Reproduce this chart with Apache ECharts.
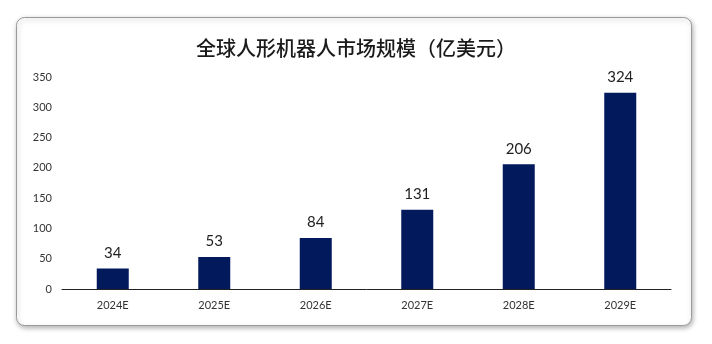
<!DOCTYPE html>
<html>
<head>
<meta charset="utf-8">
<script src="https://cdn.jsdelivr.net/npm/echarts@6/dist/echarts.min.js"></script>
<style>
  html, body { margin: 0; padding: 0; background: #ffffff; }
  #chart { width: 712px; height: 344px; }
</style>
</head>
<body>
<div id="chart"></div>
<script>
// Global humanoid robot market size, 100 million USD
const years = ['2024E', '2025E', '2026E', '2027E', '2028E', '2029E'];
const marketSize = [34, 53, 84, 131, 206, 324];
const titleText = '全球人形机器人市场规模（亿美元）';

const chart = echarts.init(document.getElementById('chart'), null, { renderer: 'canvas' });

chart.setOption({
  backgroundColor: '#ffffff',
  animation: false,
  graphic: [{
    type: 'rect',
    z: -10,
    shape: { x: 16.5, y: 17.5, width: 675, height: 308, r: 8 },
    style: {
      fill: '#ffffff',
      stroke: '#9a9a9a',
      lineWidth: 1,
      shadowBlur: 5,
      shadowOffsetX: 1,
      shadowOffsetY: 2,
      shadowColor: 'rgba(0,0,0,0.3)'
    }
  }],
  title: {
    text: titleText,
    left: 'center',
    top: 33,
    textStyle: {
      fontFamily: '"Noto Sans CJK SC", sans-serif',
      fontSize: 20,
      fontWeight: 500,
      color: '#1a1a1a'
    }
  },
  grid: { left: 62, right: 41, top: 77, bottom: 55, containLabel: false },
  xAxis: {
    type: 'category',
    data: years,
    axisLine: { lineStyle: { color: '#222222', width: 1 } },
    axisTick: { show: false },
    axisLabel: {
      margin: 11,
      fontFamily: 'Lato, "Open Sans", sans-serif',
      fontSize: 11,
      color: '#333333'
    }
  },
  yAxis: {
    type: 'value',
    min: 0,
    max: 350,
    interval: 50,
    splitLine: { show: false },
    axisLine: { show: false },
    axisTick: { show: false },
    axisLabel: {
      margin: 10,
      fontFamily: 'Lato, "Open Sans", sans-serif',
      fontSize: 11,
      color: '#333333'
    }
  },
  series: [{
    type: 'bar',
    data: marketSize,
    barWidth: 32,
    itemStyle: { color: '#021a5c' },
    label: {
      show: true,
      position: 'top',
      distance: 8,
      fontFamily: 'Lato, "Open Sans", sans-serif',
      fontSize: 15,
      color: '#222222'
    }
  }]
});
</script>
</body>
</html>
